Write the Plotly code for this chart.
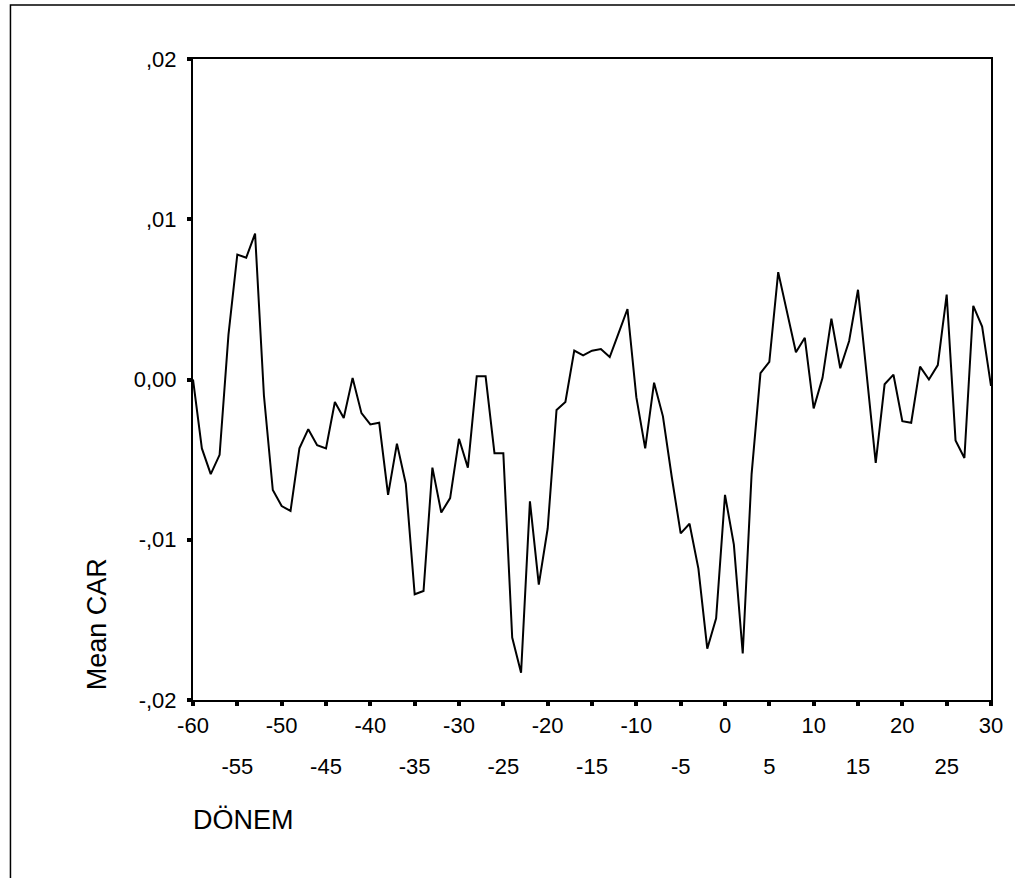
import plotly.graph_objects as go

donem = list(range(-60, 31))
mean_car = [
    0.0000, -0.0043, -0.0059, -0.0047, 0.0028, 0.0078, 0.0076, 0.0091, -0.0010, -0.0069,
    -0.0079, -0.0082, -0.0043, -0.0031, -0.0041, -0.0043, -0.0014, -0.0024, 0.0001, -0.0021,
    -0.0028, -0.0027, -0.0072, -0.0040, -0.0065, -0.0134, -0.0132, -0.0055, -0.0083, -0.0074,
    -0.0037, -0.0055, 0.0002, 0.0002, -0.0046, -0.0046, -0.0161, -0.0183, -0.0076, -0.0128,
    -0.0093, -0.0019, -0.0014, 0.0018, 0.0015, 0.0018, 0.0019, 0.0014, 0.0029, 0.0044,
    -0.0011, -0.0043, -0.0002, -0.0023, -0.0061, -0.0096, -0.0090, -0.0118, -0.0168, -0.0149,
    -0.0072, -0.0103, -0.0171, -0.0059, 0.0004, 0.0011, 0.0067, 0.0042, 0.0017, 0.0026,
    -0.0018, 0.0001, 0.0038, 0.0007, 0.0024, 0.0056, 0.0002, -0.0052, -0.0003, 0.0003,
    -0.0026, -0.0027, 0.0008, 0.0000, 0.0009, 0.0053, -0.0038, -0.0049, 0.0046, 0.0033,
    -0.0004,
]

x_major = [-60, -50, -40, -30, -20, -10, 0, 10, 20, 30]
x_minor = [-55, -45, -35, -25, -15, -5, 5, 15, 25]
y_ticks = [0.02, 0.01, 0.0, -0.01, -0.02]
y_labels = [",02", ",01", "0,00", "-,01", "-,02"]

FONT = "Liberation Sans, Arial, sans-serif"

fig = go.Figure()
fig.add_trace(go.Scatter(x=donem, y=mean_car, mode="lines",
                         line=dict(color="black", width=2), showlegend=False,
                         hoverinfo="skip"))
# invisible helper trace for second tick-label row
fig.add_trace(go.Scatter(x=[donem[0], donem[-1]], y=[0, 0], mode="lines",
                         line=dict(color="rgba(0,0,0,0)", width=0), xaxis="x2",
                         showlegend=False, hoverinfo="skip"))

all_ticks = sorted(x_major + x_minor)
fig.update_layout(
    width=1015, height=878,
    margin=dict(l=193, r=22, t=59, b=178),
    paper_bgcolor="white", plot_bgcolor="white",
    font=dict(family=FONT, size=22, color="black"),
    xaxis=dict(range=[-60, 30], tickvals=all_ticks,
               ticktext=[str(v) if v in x_major else "" for v in all_ticks],
               ticks="outside", ticklen=4, tickwidth=4, tickcolor="black",
               showline=True, linecolor="black", linewidth=2, mirror=True,
               showgrid=False, zeroline=False, ticklabelstandoff=1,
               tickfont=dict(family=FONT, size=22)),
    xaxis2=dict(range=[-60, 30], overlaying="x", side="bottom", anchor="y",
                tickvals=x_minor, ticktext=[str(v) for v in x_minor],
                ticks="", showline=False, showgrid=False, zeroline=False,
                ticklabelstandoff=51, tickfont=dict(family=FONT, size=22)),
    yaxis=dict(range=[-0.02, 0.02], tickvals=y_ticks, ticktext=y_labels,
               ticks="outside", ticklen=4, tickwidth=4, tickcolor="black",
               showline=True, linecolor="black", linewidth=2, mirror=True,
               showgrid=False, zeroline=False, ticklabelstandoff=6,
               tickfont=dict(family=FONT, size=22)),
    shapes=[dict(type="rect", xref="paper", yref="paper",
                 x0=-0.22875, x1=1.3, y0=-0.5, y1=1.0842,
                 line=dict(color="black", width=1.5), fillcolor="rgba(0,0,0,0)",
                 layer="below")],
    annotations=[
        dict(text="Mean CAR", xref="paper", yref="paper", x=-0.12, y=0.1186,
             textangle=-90, showarrow=False, xanchor="center", yanchor="middle",
             font=dict(family=FONT, size=27)),
        dict(text="DÖNEM", xref="paper", yref="paper", x=-0.003, y=-0.187,
             showarrow=False, xanchor="left", yanchor="middle",
             font=dict(family=FONT, size=27)),
    ],
)

fig.write_html("out.html",
               config={"displayModeBar": False},
               post_script="document.body.style.margin='0';document.body.style.overflow='hidden';")
